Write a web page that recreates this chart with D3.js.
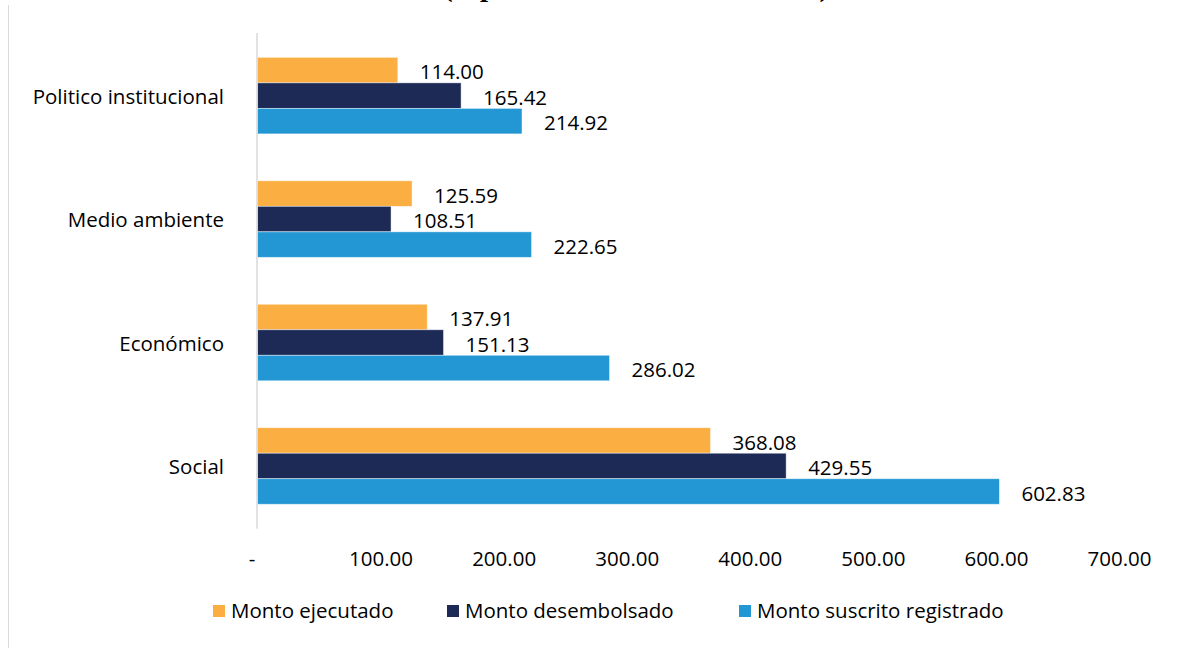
<!DOCTYPE html>
<html>
<head>
<meta charset="utf-8">
<script src="https://cdn.jsdelivr.net/npm/d3@7"></script>
<style>
  html, body { margin: 0; padding: 0; background: #fff; }
  svg { display: block; }
  text { font-family: "Open Sans", "Noto Sans", sans-serif; fill: #000; }
</style>
</head>
<body>
<svg id="chart" width="1178" height="648"></svg>
<script>
// ---- data ----
const categories = ["Politico institucional", "Medio ambiente", "Económico", "Social"];
const seriesNames = ["Monto ejecutado", "Monto desembolsado", "Monto suscrito registrado"];
const ejecutado   = [114.00, 125.59, 137.91, 368.08];
const desembolsado = [165.42, 108.51, 151.13, 429.55];
const suscrito    = [214.92, 222.65, 286.02, 602.83];
const tickValues = [0, 100, 200, 300, 400, 500, 600, 700];
const tickLabels = ["-", "100.00", "200.00", "300.00", "400.00", "500.00", "600.00", "700.00"];
const colors = ["#FBAE42", "#1D2A56", "#2397D4"];
const titleText = "(expresado en millones de US$)";

const seriesValues = [ejecutado, desembolsado, suscrito];

const svg = d3.select("#chart");
const W = 1178, H = 648;
svg.append("rect").attr("width", W).attr("height", H).attr("fill", "#fff");

// chart border (left edge visible)
svg.append("line")
  .attr("x1", 8.5).attr("x2", 8.5).attr("y1", 5).attr("y2", H)
  .attr("stroke", "#d9d9d9").attr("stroke-width", 1);

// title (cropped at top, as in the reference)
svg.append("text")
  .attr("x", 636).attr("y", -4)
  .attr("text-anchor", "middle")
  .style("font-family", "'Liberation Serif', 'Times New Roman', serif")
  .style("font-weight", "bold")
  .style("font-size", "29px")
  .text(titleText);

// scales
const x = d3.scaleLinear().domain([0, 700]).range([257.5, 1119]);
const y = d3.scaleBand().domain(categories).range([33.9, 527.7])
  .paddingInner(0.38).paddingOuter(0.19);
const ys = d3.scaleBand().domain(seriesNames).range([0, y.bandwidth()]).padding(0);

const FS = "20.5px";

// bars
const rows = [];
categories.forEach((c, i) => {
  seriesNames.forEach((s, j) => {
    rows.push({ cat: c, ser: s, j: j, v: seriesValues[j][i] });
  });
});

const g = svg.append("g");
g.selectAll("rect.bar").data(rows).enter().append("rect")
  .attr("class", "bar")
  .attr("x", x(0))
  .attr("y", d => y(d.cat) + ys(d.ser))
  .attr("width", d => x(d.v) - x(0))
  .attr("height", ys.bandwidth())
  .attr("fill", d => colors[d.j])
  .attr("stroke", "#ffffff")
  .attr("stroke-opacity", 0.55)
  .attr("stroke-width", 0.8);

// value labels
g.selectAll("text.val").data(rows).enter().append("text")
  .attr("class", "val")
  .attr("x", d => x(d.v) + 22)
  .attr("y", d => y(d.cat) + ys(d.ser) + ys.bandwidth() / 2 + 2)
  .attr("dy", "0.35em")
  .style("font-size", FS)
  .text(d => d.v.toFixed(2));

// vertical axis line
svg.append("line")
  .attr("x1", x(0) - 0.5).attr("x2", x(0) - 0.5)
  .attr("y1", y.range()[0] - 1).attr("y2", y.range()[1] + 1)
  .attr("stroke", "#d9d9d9").attr("stroke-width", 1.5);

// category labels
svg.append("g").selectAll("text").data(categories).enter().append("text")
  .attr("x", 224)
  .attr("y", d => y(d) + y.bandwidth() / 2 + 1)
  .attr("dy", "0.35em")
  .attr("text-anchor", "end")
  .style("font-size", FS)
  .text(d => d);

// x axis
const xAxis = d3.axisBottom(x)
  .tickValues(tickValues)
  .tickFormat((d, i) => tickLabels[i])
  .tickSize(0);
const ax = svg.append("g").attr("transform", "translate(0,559)").call(xAxis);
ax.select(".domain").remove();
ax.selectAll("text")
  .attr("y", 0).attr("dy", "0.35em")
  .attr("dx", (d, i) => i === 0 ? -6 : 0)
  .style("font-family", "'Open Sans', 'Noto Sans', sans-serif")
  .style("font-size", FS)
  .attr("fill", "#000");

// legend
const legendX = [213, 447, 739];
const lg = svg.append("g").attr("transform", "translate(0,611)");
seriesNames.forEach((s, j) => {
  lg.append("rect")
    .attr("x", legendX[j]).attr("y", -6)
    .attr("width", 12).attr("height", 12)
    .attr("fill", colors[j]);
  lg.append("text")
    .attr("x", legendX[j] + 18).attr("y", 0)
    .attr("dy", "0.35em")
    .style("font-size", FS)
    .text(s);
});
</script>
</body>
</html>
